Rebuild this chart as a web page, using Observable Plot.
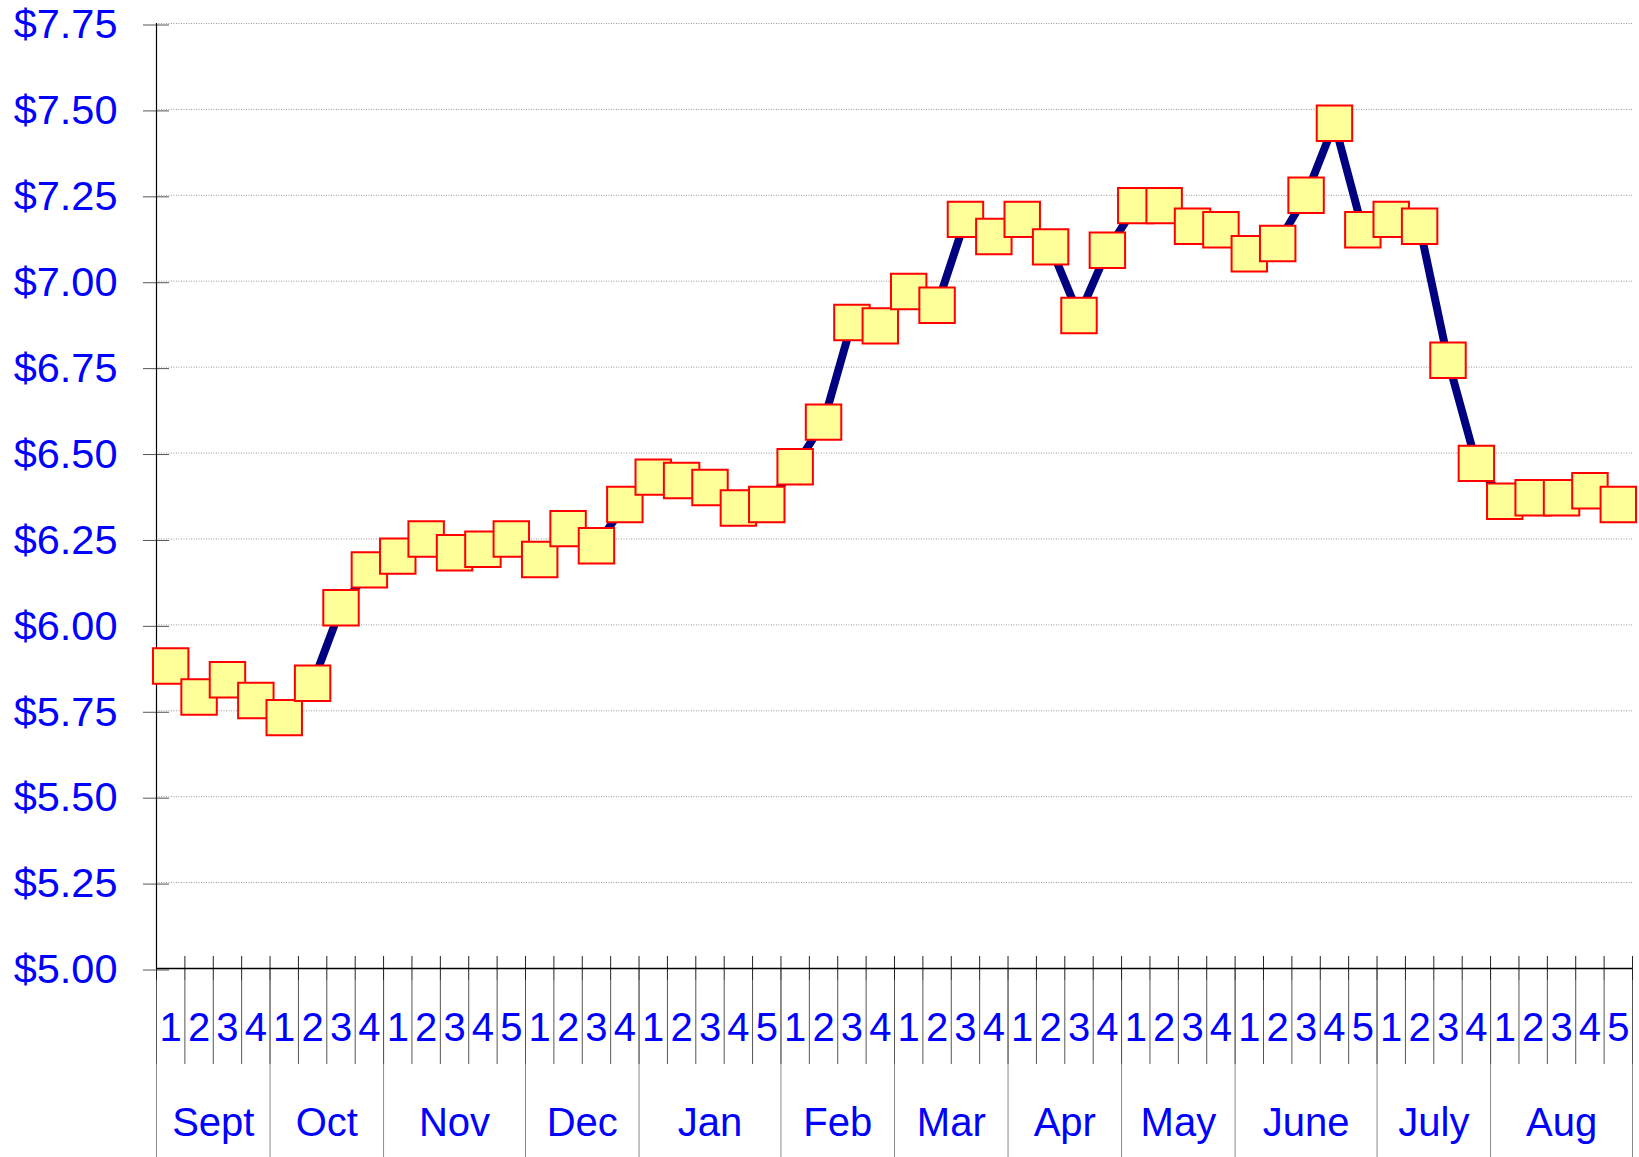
<!DOCTYPE html>
<html>
<head>
<meta charset="utf-8">
<script src="https://cdn.jsdelivr.net/npm/d3@7"></script>
<script src="https://cdn.jsdelivr.net/npm/@observablehq/plot@0.6"></script>
<style>
  html, body { margin: 0; padding: 0; background: #fff; }
  #chart svg { display: block; }
</style>
</head>
<body>
<div id="chart"></div>
<script>
// ---- data ----
const months = ["Sept", "Oct", "Nov", "Dec", "Jan", "Feb", "Mar", "Apr", "May", "June", "July", "Aug"];
const weeksPerMonth = [4, 4, 5, 4, 5, 4, 4, 4, 4, 5, 4, 5];
const prices = [
  5.88, 5.79, 5.84, 5.78,          // Sept
  5.73, 5.83, 6.05, 6.16,          // Oct
  6.20, 6.25, 6.21, 6.22, 6.25,    // Nov
  6.19, 6.28, 6.23, 6.35,          // Dec
  6.43, 6.42, 6.40, 6.34, 6.35,    // Jan
  6.46, 6.59, 6.88, 6.87,          // Feb
  6.97, 6.93, 7.18, 7.13,          // Mar
  7.18, 7.10, 6.90, 7.09,          // Apr
  7.22, 7.22, 7.16, 7.15,          // May
  7.08, 7.11, 7.25, 7.46, 7.15,    // June
  7.18, 7.16, 6.77, 6.47,          // July
  6.36, 6.37, 6.37, 6.39, 6.35     // Aug
];
const yTicks = [5.00, 5.25, 5.50, 5.75, 6.00, 6.25, 6.50, 6.75, 7.00, 7.25, 7.50, 7.75];

// ---- derived table ----
const rows = [];
const monthStarts = [0];
const monthCenters = [];
let idx = 0;
months.forEach((m, mi) => {
  const start = idx;
  for (let w = 1; w <= weeksPerMonth[mi]; w++) {
    rows.push({month: m, week: w, pos: idx + 0.5, price: prices[idx]});
    idx++;
  }
  monthStarts.push(idx);
  monthCenters.push((start + idx) / 2);
});
const nWeeks = idx;
const weekBounds = d3.range(0, nWeeks + 1);
const weekCenters = rows.map(r => r.pos);
const weekLabel = new Map(rows.map(r => [r.pos, String(r.week)]));
const monthLabel = new Map(monthCenters.map((c, i) => [c, months[i]]));

const blue = "#0000FF";
const font = "'Liberation Sans', Arial, Helvetica, sans-serif";

const chart = Plot.plot({
  width: 1639,
  height: 1157,
  marginLeft: 156,
  marginRight: 7,
  marginTop: 23,
  marginBottom: 189,
  style: {fontFamily: font, fontSize: "40px", background: "#fff", overflow: "visible"},
  x: {type: "linear", domain: [0, nWeeks], axis: null},
  y: {domain: [5, 7.75], axis: null},
  marks: [
    // dotted grid
    Plot.gridY(yTicks.filter(t => t > 5), {stroke: "#9a9a9a", strokeOpacity: 1, strokeDasharray: "1,1.5"}),
    // y ticks crossing the axis
    Plot.axisY(yTicks, {anchor: "left", tickSize: 26, tickPadding: 26, dx: 13,
      stroke: "#555", color: blue, fill: blue, fontSize: 41.5, dy: 1.5,
      tickFormat: d3.format("$.2f"), label: null}),
    // month separators down to the bottom
    Plot.axisX(monthStarts, {anchor: "bottom", tickSize: 189, stroke: "#8a8a8a", tickFormat: () => "", label: null}),
    // week separators below the axis
    Plot.axisX(weekBounds, {anchor: "bottom", tickSize: 84, dy: 12, stroke: "#555", tickFormat: () => "", label: null}),
    // week ticks crossing the axis
    Plot.axisX(weekBounds, {anchor: "bottom", tickSize: 24, dy: -12, stroke: "#222", tickFormat: () => "", label: null}),
    // week numbers
    Plot.axisX(weekCenters, {anchor: "bottom", tickSize: 0, tickPadding: 44, color: blue, fill: blue, fontSize: 40,
      tickFormat: d => weekLabel.get(d), label: null}),
    // month names
    Plot.axisX(monthCenters, {anchor: "bottom", tickSize: 0, tickPadding: 139, color: blue, fill: blue, fontSize: 40,
      tickFormat: d => monthLabel.get(d), label: null}),
    // axis lines
    Plot.ruleX([0], {stroke: "#000", strokeWidth: 1.2}),
    Plot.ruleY([5], {stroke: "#000", strokeWidth: 1.5}),
    // series
    Plot.line(rows, {x: "pos", y: "price", stroke: "#000080", strokeWidth: 8}),
    Plot.dot(rows, {x: "pos", y: "price", symbol: "square", r: 20, fill: "#FFFF99", fillOpacity: 1, stroke: "#FF0000", strokeWidth: 2})
  ]
});
document.getElementById("chart").appendChild(chart);
</script>
</body>
</html>
